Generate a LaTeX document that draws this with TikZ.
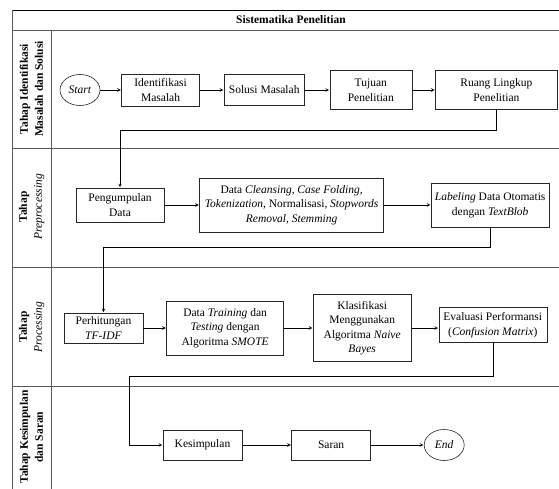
\documentclass[tikz,border=0pt]{standalone}
\usepackage{fontspec}
\setmainfont{Liberation Serif}
\usetikzlibrary{arrows, positioning, shapes.geometric}

\begin{document}
\begin{tikzpicture}[
            x = 1pt, y = -1pt, % work in pixels of the page
            > = stealth, % arrow head style
            shorten > = 0.5pt, % don't push arrow head into node
            node distance = 24pt, % distance between nodes
            semithick, % line style
            font = \fontsize{11.5}{14.5}\selectfont
        ]

        \tikzstyle{box}=[
            draw = black!85,
            fill = white,
            rectangle,
            align = center,
            inner sep = 1pt
        ]
        \tikzstyle{term}=[
            draw = black!85,
            ellipse,
            inner sep = 0pt,
            minimum width = 40pt,
            minimum height = 31pt
        ]
        \tikzstyle{lane}=[
            draw = black!65,
            line width = 0.9pt
        ]
        \tikzstyle{lanelabel}=[
            rotate = 90,
            align = center,
            font = \fontsize{11.5}{15}\selectfont
        ]

        \useasboundingbox (0,0) rectangle (559,488);

        % frame and lanes
        \draw[black, line width = 0.9pt] (12,10) -- (575,10);
        \draw[lane] (12,30) -- (575,30);
        \draw[lane] (12,148) -- (575,148);
        \draw[lane] (12,267) -- (575,267);
        \draw[lane] (12,386) -- (575,386);
        \draw[lane] (12,10) -- (12,510);
        \draw[lane] (51,30) -- (51,510);

        \node[font = \fontsize{11.5}{14}\selectfont\bfseries] (title) at (291,20) {Sistematika Penelitian};
        \node[lanelabel] (l1) at (31.5,89) {\textbf{Tahap Identifikasi}\\\textbf{Masalah dan Solusi}};
        \node[lanelabel] (l2) at (31.5,207) {\textbf{Tahap}\\\textit{Preprocessing}};
        \node[lanelabel] (l3) at (31.5,327) {\textbf{Tahap}\\\textit{Processing}};
        \node[lanelabel] (l4) at (31.5,437) {\textbf{Tahap Kesimpulan}\\\textbf{dan Saran}};

        % lane 1
	\node[term] (start) at (80,90) {\textit{Start}};
	\node[box, minimum width = 78pt, minimum height = 32pt] (idm) [right=21pt of start] {Identifikasi\\Masalah};
	\node[box, minimum width = 80pt, minimum height = 31pt] (sm) [right=24pt of idm] {Solusi Masalah};
	\node[box, minimum width = 82pt, minimum height = 39pt] (tp) [right=25pt of sm] {Tujuan\\Penelitian};
	\node[box, minimum width = 122pt, minimum height = 39pt] (rl) [right=23pt of tp] {Ruang Lingkup\\Penelitian};

        % lane 2
	\node[box, minimum width = 88pt, minimum height = 34pt] (pd) at (120,205) {Pengumpulan\\Data};
	\node[box, minimum width = 184pt, minimum height = 54pt] (dc) [right=35pt of pd] {Data \textit{Cleansing, Case Folding,}\\\textit{Tokenization}, Normalisasi, \textit{Stopwords}\\\textit{Removal, Stemming}};
	\node[box, minimum width = 118pt, minimum height = 44pt] (lb) [right=47pt of dc] {\textit{Labeling} Data Otomatis\\dengan \textit{TextBlob}};

        % lane 3
	\node[box, minimum width = 79pt, minimum height = 30pt] (tf) at (103.5,328) {Perhitungan\\\textit{TF-IDF}};
	\node[box, minimum width = 117pt, minimum height = 54pt] (dt) [right=23pt of tf] {Data \textit{Training} dan\\\textit{Testing} dengan\\Algoritma \textit{SMOTE}};
	\node[box, minimum width = 98pt, minimum height = 67pt] (kl) [right=29pt of dt] {Klasifikasi\\Menggunakan\\Algoritma \textit{Naive}\\\textit{Bayes}};
	\node[box, minimum width = 108pt, minimum height = 35pt] (ev) [right=27pt of kl, yshift=3pt] {Evaluasi Performansi\\(\textit{Confusion Matrix})};

        % lane 4
	\node[box, minimum width = 79pt, minimum height = 30pt] (ks) at (202.5,445) {Kesimpulan};
	\node[box, minimum width = 79pt, minimum height = 30pt] (sr) [right=49pt of ks] {Saran};
	\node[term] (end) [right=53pt of sr] {\textit{End}};
	\coordinate (turn) at (129,445);

	\path[->] (start) edge (idm);
	\path[->] (idm) edge (sm);
	\path[->] (sm) edge (tp);
	\path[->] (tp) edge (rl);
	\draw[->] (rl.south) -- ++(0,20) -| (pd.north);
	\path[->] (pd) edge (dc);
	\path[->] (dc) edge (lb);
	\draw[->] (lb.south) -- ++(0,20) -| (tf.north);
	\path[->] (tf) edge (dt);
	\path[->] (dt) edge (kl);
	\path[->] (kl.east) edge (kl.east -| ev.west);
	\draw[->] (ev.south) -- ++(0,33) -| (turn) -- (ks.west);
	\path[->] (ks) edge (sr);
	\path[->] (sr) edge (end);

    \end{tikzpicture}
\end{document}
